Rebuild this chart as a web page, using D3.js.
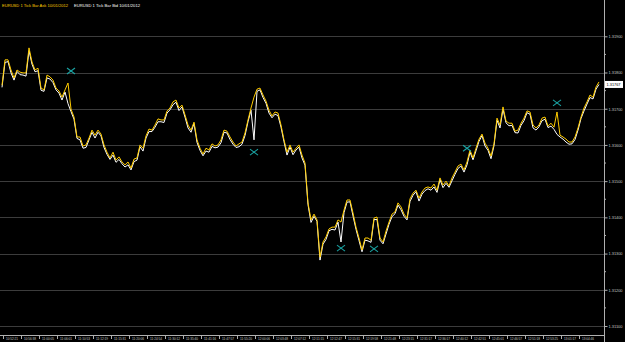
<!DOCTYPE html>
<html><head><meta charset="utf-8">
<script src="https://cdn.jsdelivr.net/npm/d3@7"></script>
<style>html,body{margin:0;padding:0;background:#000;}svg{display:block;}</style>
</head><body>
<script>
const askPrices = [1.31765,1.31835,1.31835,1.31807,1.31785,1.31807,1.31801,1.31799,1.31799,1.31868,
1.31829,1.31807,1.31812,1.31757,1.31752,1.31793,1.31788,1.31779,1.31757,1.31749,
1.31732,1.31752,1.31771,1.31699,1.31677,1.31622,1.31622,1.31597,1.31600,1.31619,
1.31641,1.31627,1.31641,1.31630,1.31600,1.31580,1.31564,1.31580,1.31558,1.31567,
1.31553,1.31545,1.31553,1.31536,1.31561,1.31564,1.31600,1.31591,1.31625,1.31644,
1.31641,1.31655,1.31672,1.31669,1.31669,1.31694,1.31702,1.31719,1.31724,1.31702,
1.31710,1.31683,1.31655,1.31641,1.31663,1.31614,1.31591,1.31575,1.31591,1.31586,
1.31603,1.31597,1.31600,1.31614,1.31641,1.31638,1.31622,1.31608,1.31597,1.31603,
1.31608,1.31633,1.31669,1.31702,1.31732,1.31754,1.31757,1.31738,1.31721,1.31696,
1.31680,1.31691,1.31688,1.31655,1.31614,1.31580,1.31600,1.31580,1.31591,1.31600,
1.31572,1.31550,1.31440,1.31393,1.31409,1.31393,1.31290,1.31332,1.31346,1.31368,
1.31373,1.31373,1.31393,1.31387,1.31420,1.31448,1.31448,1.31412,1.31373,1.31343,
1.31310,1.31343,1.31343,1.31337,1.31398,1.31401,1.31343,1.31332,1.31362,1.31387,
1.31409,1.31415,1.31440,1.31429,1.31409,1.31398,1.31451,1.31467,1.31475,1.31453,
1.31470,1.31481,1.31484,1.31481,1.31492,1.31475,1.31509,1.31489,1.31500,1.31487,
1.31509,1.31525,1.31542,1.31547,1.31531,1.31553,1.31586,1.31564,1.31591,1.31616,
1.31630,1.31605,1.31591,1.31569,1.31603,1.31674,1.31655,1.31705,1.31666,1.31660,
1.31660,1.31638,1.31641,1.31660,1.31674,1.31694,1.31691,1.31655,1.31647,1.31655,
1.31674,1.31677,1.31652,1.31660,1.31649,1.31691,1.31627,1.31622,1.31616,1.31608,
1.31608,1.31622,1.31647,1.31677,1.31702,1.31719,1.31738,1.31732,1.31760,1.31774];

const bidPrices = [1.31759,1.31828,1.31830,1.31799,1.31779,1.31803,1.31794,1.31793,1.31790,1.31860,
1.31823,1.31802,1.31805,1.31751,1.31748,1.31785,1.31782,1.31772,1.31752,1.31743,
1.31724,1.31746,1.31714,1.31692,1.31671,1.31618,1.31614,1.31591,1.31593,1.31614,
1.31635,1.31619,1.31635,1.31625,1.31593,1.31574,1.31560,1.31572,1.31552,1.31560,
1.31548,1.31539,1.31545,1.31531,1.31554,1.31558,1.31595,1.31583,1.31619,1.31637,
1.31637,1.31649,1.31664,1.31664,1.31662,1.31688,1.31697,1.31711,1.31718,1.31695,
1.31705,1.31677,1.31647,1.31635,1.31659,1.31607,1.31585,1.31570,1.31583,1.31580,
1.31596,1.31592,1.31594,1.31606,1.31635,1.31633,1.31615,1.31602,1.31593,1.31595,
1.31602,1.31626,1.31664,1.31696,1.31614,1.31748,1.31752,1.31731,1.31715,1.31688,
1.31675,1.31685,1.31681,1.31649,1.31609,1.31572,1.31594,1.31573,1.31586,1.31594,
1.31564,1.31544,1.31435,1.31386,1.31403,1.31389,1.31282,1.31326,1.31339,1.31363,
1.31367,1.31365,1.31387,1.31332,1.31413,1.31442,1.31443,1.31404,1.31367,1.31336,
1.31305,1.31337,1.31335,1.31331,1.31394,1.31394,1.31337,1.31327,1.31354,1.31381,
1.31402,1.31410,1.31434,1.31421,1.31403,1.31393,1.31444,1.31461,1.31471,1.31445,
1.31464,1.31474,1.31479,1.31475,1.31484,1.31469,1.31504,1.31482,1.31494,1.31483,
1.31501,1.31519,1.31535,1.31542,1.31525,1.31545,1.31580,1.31559,1.31584,1.31610,
1.31626,1.31597,1.31585,1.31562,1.31598,1.31668,1.31647,1.31699,1.31661,1.31653,
1.31654,1.31634,1.31633,1.31654,1.31667,1.31689,1.31685,1.31647,1.31641,1.31650,
1.31667,1.31671,1.31648,1.31652,1.31643,1.31629,1.31622,1.31616,1.31608,1.31602,
1.31603,1.31615,1.31641,1.31673,1.31694,1.31713,1.31731,1.31727,1.31754,1.31767];

const timeLabels = ["10:52:21","10:56:38","11:00:05","11:06:01","11:10:53","11:12:19","11:15:31","11:20:06",
"11:24:54","11:30:12","11:35:40","11:41:16","11:47:57","11:55:20","12:00:06","12:03:48","12:07:12",
"12:11:15","12:12:47","12:15:31","12:19:58","12:21:48","12:23:15","12:31:17","12:36:17","12:40:12",
"12:42:51","12:45:01","12:46:57","12:51:18","12:53:25","13:01:17","13:04:46"];

const priceTicks = [1.319,1.318,1.317,1.316,1.315,1.314,1.313,1.312,1.311];

const markerIndex = [23, 84, 113, 124, 155, 185];
const markerPrice = [1.31804, 1.31580, 1.31315, 1.31313, 1.31591, 1.31716];

const W = 625, H = 342;
const plotRight = 604, plotBottom = 335;
const FONT = "Liberation Sans, Arial, sans-serif";

const svg = d3.select("body").append("svg").attr("width", W).attr("height", H)
  .style("background", "#000");

const x = d3.scaleLinear().domain([0, askPrices.length - 1]).range([2, 599]);
const y = d3.scaleLinear().domain([1.311, 1.319]).range([326, 36.3]);

// grid
svg.append("g").selectAll("line").data(priceTicks).join("line")
  .attr("x1", 0).attr("x2", plotRight)
  .attr("y1", d => Math.round(y(d)) + 0.5).attr("y2", d => Math.round(y(d)) + 0.5)
  .attr("stroke", "#3c3c3c").attr("stroke-width", 1);

// lines
const line = d3.line().x((d, i) => x(i)).y(d => y(d));
svg.append("path").datum(bidPrices).attr("d", line)
  .attr("fill", "none").attr("stroke", "#ffffff").attr("stroke-width", 1);
svg.append("path").datum(askPrices).attr("d", line)
  .attr("fill", "none").attr("stroke", "#ffcc00").attr("stroke-width", 1);

// markers
const mk = svg.append("g").selectAll("g").data(markerIndex).join("g")
  .attr("transform", (d, i) => `translate(${x(d)},${y(markerPrice[i])})`);
mk.append("line").attr("x1", -4).attr("y1", -3).attr("x2", 4).attr("y2", 3);
mk.append("line").attr("x1", -4).attr("y1", 3).attr("x2", 4).attr("y2", -3);
mk.selectAll("line").attr("stroke", "#1aa3a3").attr("stroke-width", 1.1);

// axes frame
svg.append("line").attr("x1", plotRight + 0.5).attr("x2", plotRight + 0.5).attr("y1", 0).attr("y2", H)
  .attr("stroke", "#b0b0b0");
svg.append("line").attr("x1", 0).attr("x2", plotRight).attr("y1", plotBottom + 0.5).attr("y2", plotBottom + 0.5)
  .attr("stroke", "#b0b0b0");

// right axis
const yAxis = d3.axisRight(y).tickValues(priceTicks).tickFormat(d3.format(".5f")).tickSize(3).tickPadding(1);
const ya = svg.append("g").attr("transform", `translate(${plotRight + 0.5},0)`).call(yAxis);
ya.select(".domain").remove();
ya.selectAll("line").attr("stroke", "#b0b0b0");
ya.selectAll("text").attr("fill", "#c8c8c8").style("font-family", FONT).style("font-size", "4px")
  .attr("textLength", 14).attr("lengthAdjust", "spacingAndGlyphs");
// minor ticks
svg.append("g").selectAll("line").data(priceTicks.slice(1)).join("line")
  .attr("x1", plotRight).attr("x2", plotRight + 2)
  .attr("y1", d => y(d + 0.0005)).attr("y2", d => y(d + 0.0005))
  .attr("stroke", "#b0b0b0");

// current price box
const lastBid = bidPrices[bidPrices.length - 1];
svg.append("rect").attr("x", plotRight + 1).attr("y", y(lastBid) - 3.5).attr("width", 18).attr("height", 7).attr("fill", "#ffffff");
svg.append("text").attr("x", plotRight + 2.5).attr("y", y(lastBid) + 1.6).text(d3.format(".5f")(lastBid))
  .attr("fill", "#000").style("font-family", FONT).style("font-size", "4px")
  .attr("textLength", 14).attr("lengthAdjust", "spacingAndGlyphs");

// bottom axis
const xt = d3.scalePoint().domain(timeLabels).range([6, 582]);
const xa = svg.append("g");
xa.selectAll("line").data(timeLabels).join("line")
  .attr("x1", d => xt(d) - 2.5).attr("x2", d => xt(d) - 2.5).attr("y1", plotBottom).attr("y2", plotBottom + 4)
  .attr("stroke", "#b0b0b0");
xa.selectAll("text").data(timeLabels).join("text")
  .attr("x", d => xt(d)).attr("y", 340).text(d => d)
  .attr("fill", "#c8c8c8").style("font-family", FONT).style("font-size", "4px")
  .attr("textLength", 12).attr("lengthAdjust", "spacingAndGlyphs");

// header
svg.append("text").attr("x", 2).attr("y", 7).text("EURUSD 1 Tick Bar  Ask  10/01/2012")
  .attr("fill", "#ffcc00").style("font-family", FONT).style("font-size", "4px")
  .attr("textLength", 66).attr("lengthAdjust", "spacingAndGlyphs");
svg.append("text").attr("x", 74).attr("y", 7).text("EURUSD 1 Tick Bar  Bid  10/01/2012")
  .attr("fill", "#ffffff").style("font-family", FONT).style("font-size", "4px")
  .attr("textLength", 66).attr("lengthAdjust", "spacingAndGlyphs");
</script>
</body></html>
